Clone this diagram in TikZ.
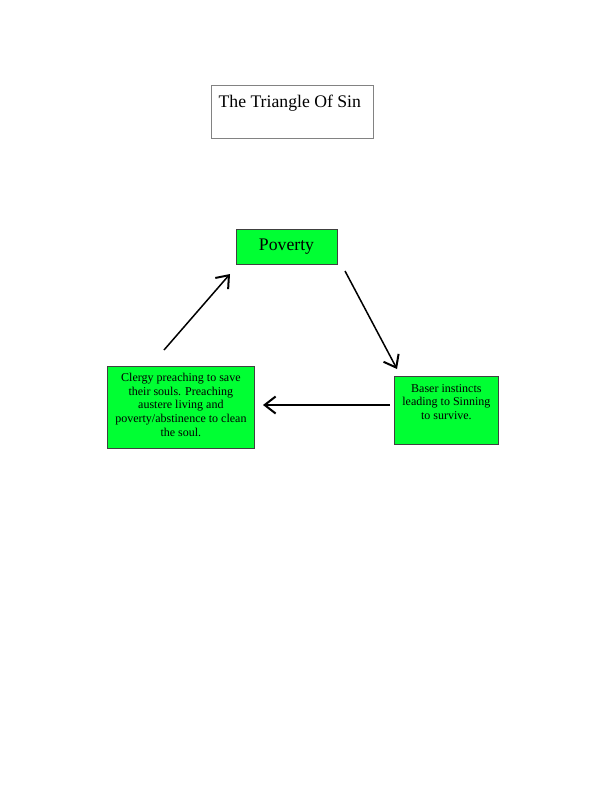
\documentclass[tikz,border=0pt]{standalone}
\usepackage{fontspec}
\setmainfont{Liberation Serif}
\usetikzlibrary{arrows.meta}
\definecolor{boxgreen}{RGB}{0,255,51}
\definecolor{titleborder}{RGB}{130,130,130}
\tikzset{
  greenbox/.style={draw=black!75, line width=0.8pt, fill=boxgreen, inner sep=0pt, rectangle},
  titlebox/.style={draw=titleborder, line width=1.2pt, fill=white, inner sep=0pt, rectangle},
  cycarrow/.style={line width=1.5pt, -{Straight Barb[length=11pt,width=17pt,line width=2pt]}}
}
\begin{document}
\begin{tikzpicture}[x=1pt,y=-1pt]
\useasboundingbox (0,0) rectangle (612,792);
\fill[white] (0,0) rectangle (612,792);

\node[titlebox, anchor=north west, minimum width=162pt, minimum height=53pt] (title) at (211,85)
  {\parbox[c][53pt][t]{162pt}{\vspace*{9.2pt}\hspace*{7pt}\fontsize{17.7}{20}\selectfont The Triangle Of Sin}};

\node[greenbox, minimum width=101pt, minimum height=35pt, font=\fontsize{17.7}{20}\selectfont] (poverty) at (286.5,246.5) {Poverty};

\node[greenbox, anchor=north west, minimum width=147pt, minimum height=82pt] (clergy) at (107,366)
  {\parbox[c][82pt][t]{145pt}{\vspace*{6.8pt}\centering\fontsize{12}{13.7}\selectfont
   Clergy preaching to save\\their souls. Preaching\\austere living and\\poverty/abstinence to clean\\the soul.\par}};

\node[greenbox, anchor=north west, minimum width=104pt, minimum height=68pt] (baser) at (394,376)
  {\parbox[c][68pt][t]{102pt}{\vspace*{7.8pt}\centering\fontsize{12}{13.5}\selectfont
   Baser instincts\\leading to Sinning\\to survive.\par}};

\coordinate (a1s) at (164,350);
\coordinate (a1e) at (230,274);
\coordinate (a2s) at (345,271);
\coordinate (a2e) at (397,369);
\coordinate (a3s) at (390,405);
\coordinate (a3e) at (263,405);

\draw[cycarrow] (a1s) -- (a1e);
\draw[cycarrow] (a2s) -- (a2e);
\draw[cycarrow] (a3s) -- (a3e);
\end{tikzpicture}
\end{document}
